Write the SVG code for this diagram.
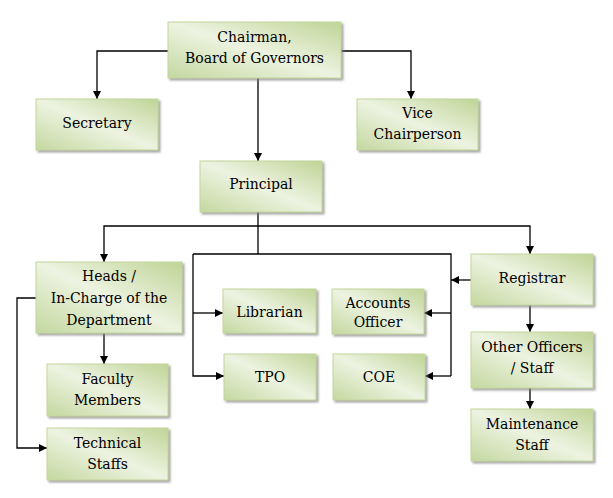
<svg xmlns="http://www.w3.org/2000/svg" width="613" height="498" viewBox="0 0 613 498">
<defs>
<linearGradient id="g" x1="1" y1="0" x2="0" y2="1">
<stop offset="0" stop-color="#bfd496"/>
<stop offset="0.5" stop-color="#edf3e1"/>
<stop offset="1" stop-color="#c4d8a0"/>
</linearGradient>
<filter id="sh" x="-10%" y="-10%" width="130%" height="130%">
<feDropShadow dx="2" dy="2" stdDeviation="0.8" flood-color="#7f7f7f" flood-opacity="0.7"/>
</filter>
<marker id="ar" markerUnits="userSpaceOnUse" markerWidth="9" markerHeight="9" refX="8" refY="4" orient="auto">
<path d="M0,0 L8,4 L0,8 z" fill="#000"/>
</marker>
</defs>
<style>
.box rect{fill:url(#g);stroke:#c3d69b;stroke-width:1;filter:url(#sh)}
.box text{font-family:"DejaVu Serif","Liberation Serif",serif;font-size:14px;fill:#000;text-anchor:middle}
.c path{fill:none;stroke:#000;stroke-width:1.3}
.c .a{marker-end:url(#ar)}
</style>
<rect width="613" height="498" fill="#fff"/>
<g id="connectors" class="c">
<path class="a" d="M258,78 V161"/>
<path class="a" d="M168,51 H97 V99"/>
<path class="a" d="M341,51 H411 V99"/>
<path d="M258,212 V254"/>
<path class="a" d="M258,226 H530 V254"/>
<path class="a" d="M258,226 H104 V262"/>
<path d="M193,254 H451 V376"/>
<path class="a" d="M193,254 V376 H224"/>
<path class="a" d="M193,313 H223"/>
<path class="a" d="M451,313 H424"/>
<path class="a" d="M451,376 H425"/>
<path class="a" d="M471,280 H451"/>
<path class="a" d="M104,333 V364"/>
<path class="a" d="M36,298 H17 V448 H47"/>
<path class="a" d="M530,305 V332"/>
<path class="a" d="M530,388 V409"/>
</g>
<g id="chairman" class="box"><rect x="168" y="22" width="173" height="56"/><text x="254.5" y="42">Chairman,</text><text x="254.5" y="63">Board of Governors</text></g>
<g id="secretary" class="box"><rect x="36" y="99" width="122" height="51"/><text x="97" y="128">Secretary</text></g>
<g id="vice" class="box"><rect x="357" y="99" width="121" height="51"/><text x="417.5" y="118">Vice</text><text x="417.5" y="138.5">Chairperson</text></g>
<g id="principal" class="box"><rect x="200" y="161" width="122" height="51"/><text x="261" y="189">Principal</text></g>
<g id="heads" class="box"><rect x="36" y="262" width="146" height="71"/><text x="109" y="281">Heads /</text><text x="109" y="303">In-Charge of the</text><text x="109" y="325">Department</text></g>
<g id="librarian" class="box"><rect x="223" y="289" width="93" height="44"/><text x="269.5" y="317">Librarian</text></g>
<g id="accounts" class="box"><rect x="332" y="289" width="92" height="45"/><text x="378" y="308">Accounts</text><text x="378" y="327">Officer</text></g>
<g id="tpo" class="box"><rect x="224" y="354" width="92" height="46"/><text x="270" y="382">TPO</text></g>
<g id="coe" class="box"><rect x="333" y="354" width="92" height="46"/><text x="379" y="382">COE</text></g>
<g id="registrar" class="box"><rect x="471" y="254" width="122" height="51"/><text x="532" y="283">Registrar</text></g>
<g id="other" class="box"><rect x="471" y="332" width="122" height="56"/><text x="532" y="352">Other Officers</text><text x="532" y="373">/ Staff</text></g>
<g id="maintenance" class="box"><rect x="471" y="409" width="122" height="52"/><text x="532" y="429">Maintenance</text><text x="532" y="450">Staff</text></g>
<g id="faculty" class="box"><rect x="47" y="364" width="121" height="52"/><text x="107.5" y="384">Faculty</text><text x="107.5" y="405">Members</text></g>
<g id="technical" class="box"><rect x="47" y="428" width="121" height="52"/><text x="107.5" y="448">Technical</text><text x="107.5" y="469">Staffs</text></g>
</svg>
